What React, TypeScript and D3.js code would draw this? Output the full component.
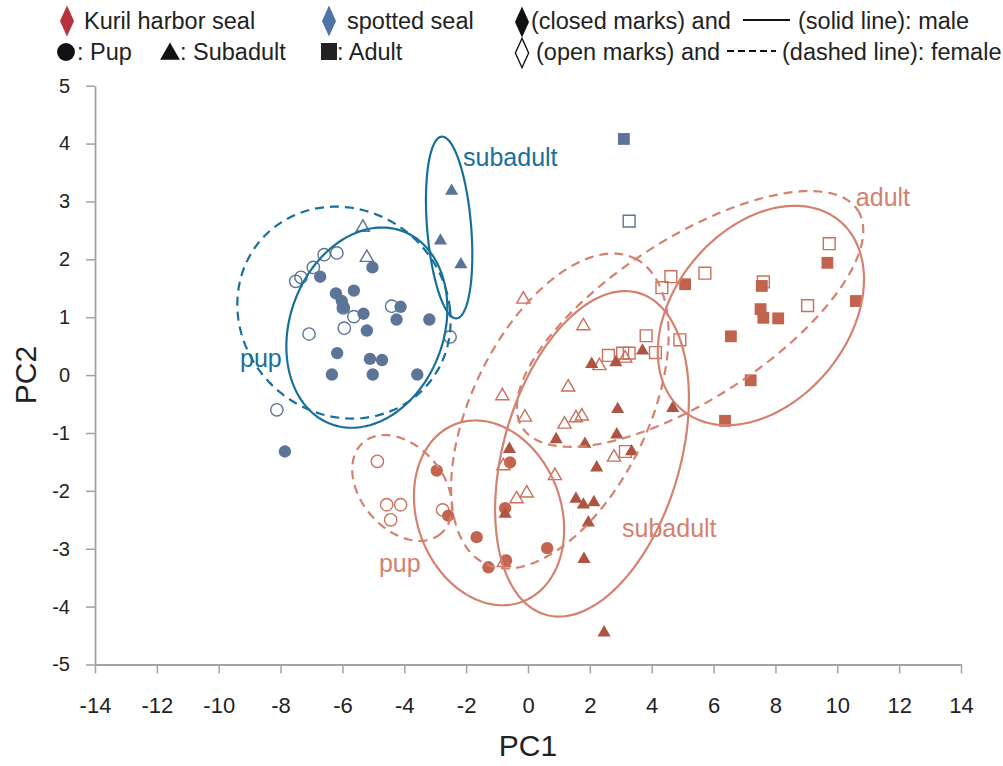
import { useEffect, useRef } from "react";
import * as d3 from "d3";

// PC1 / PC2 scores
const spottedPupMale = [
  [-6.72, 1.7], [-5.03, 1.86], [-6.21, 1.41], [-5.63, 1.46], [-6.02, 1.28],
  [-5.97, 1.17], [-5.32, 1.06], [-4.12, 1.18], [-4.25, 0.96], [-3.19, 0.96],
  [-5.21, 0.77], [-6.17, 0.38], [-5.11, 0.28], [-4.72, 0.26], [-6.34, 0.01],
  [-5.02, 0.01], [-3.58, 0.01], [-7.86, -1.32],
];
const spottedPupFemale = [
  [-6.59, 2.08], [-6.18, 2.11], [-6.94, 1.86], [-7.34, 1.69], [-7.51, 1.62],
  [-5.97, 1.16], [-5.63, 1.01], [-5.94, 0.81], [-7.08, 0.71], [-4.41, 1.19],
  [-2.52, 0.66], [-8.12, -0.6],
];
const spottedSubMale = [[-2.47, 3.18], [-2.83, 2.32], [-2.17, 1.91]];
const spottedSubFemale = [[-5.34, 2.55], [-5.21, 2.03]];
const spottedAdultMale = [[3.1, 4.08]];
const spottedAdultFemale = [[3.27, 2.66]];

const kurilPupMale = [
  [-2.95, -1.65], [-2.58, -2.43], [-1.66, -2.8], [-1.28, -3.32],
  [-0.58, -1.51], [-0.74, -2.3], [-0.71, -3.2], [0.62, -2.99],
];
const kurilPupFemale = [
  [-4.87, -1.49], [-4.57, -2.24], [-4.12, -2.24], [-4.44, -2.5], [-2.76, -2.33],
];
const kurilSubMale = [
  [2.06, 0.19], [2.84, 0.22], [3.7, 0.42], [2.9, -0.59], [2.87, -1.03],
  [0.91, -1.11], [1.84, -1.19], [3.35, -1.32], [2.22, -1.6], [-0.6, -1.28],
  [1.55, -2.14], [1.79, -2.24], [2.13, -2.2], [1.95, -2.55], [1.81, -3.18],
  [-0.74, -2.4], [4.68, -0.57], [2.46, -4.45],
];
const kurilSubFemale = [
  [-0.15, 1.31], [1.79, 0.85], [-0.83, -0.36], [1.3, -0.21], [2.31, 0.16],
  [3.14, 0.29], [-0.1, -0.73], [1.18, -0.85], [1.55, -0.74], [1.74, -0.71],
  [2.78, -1.42], [-0.8, -1.57], [0.87, -1.74], [-0.37, -2.14], [-0.04, -2.04],
  [-0.78, -3.24],
];
const kurilAdultMale = [
  [5.08, 1.57], [7.56, 1.54], [7.52, 1.14], [7.61, 0.99], [8.09, 0.98],
  [6.56, 0.67], [9.68, 1.94], [10.6, 1.28], [7.2, -0.09], [6.37, -0.79],
];
const kurilAdultFemale = [
  [4.62, 1.7], [4.33, 1.51], [5.72, 1.76], [7.61, 1.61], [9.74, 2.27],
  [9.04, 1.2], [3.82, 0.68], [4.91, 0.61], [4.12, 0.39], [2.6, 0.34],
  [3.06, 0.38], [3.27, 0.38], [3.15, -1.32],
];

// confidence ellipses: centre + two conjugate semi-axes, in PC units
const ellipses = [
  { sp: "spotted", dashed: true, c: [-5.95, 1.08], u: [3.43, 0.05], v: [-0.36, 1.83] },
  { sp: "spotted", dashed: false, c: [-5.21, 0.82], u: [1.14, 1.67], v: [2.34, -0.45] },
  { sp: "spotted", dashed: false, c: [-2.55, 2.55], u: [-0.24, 1.57], v: [0.71, 0.03] },
  { sp: "kuril", dashed: true, c: [-4.07, -1.95], u: [1.25, -0.79], v: [-1.02, -0.46] },
  { sp: "kuril", dashed: false, c: [-1.26, -2.38], u: [1.05, -1.54], v: [2.19, 0.42] },
  { sp: "kuril", dashed: true, c: [1.03, -0.62], u: [2.41, 2.64], v: [2.56, -0.66] },
  { sp: "kuril", dashed: false, c: [2.07, -1.36], u: [1.5, 2.78], v: [2.75, -0.42] },
  { sp: "kuril", dashed: true, c: [5.24, 0.97], u: [5.42, 1.88], v: [1.41, -1.16] },
  { sp: "kuril", dashed: false, c: [7.53, 1.03], u: [2.53, 1.64], v: [2.17, -0.95] },
];

const groupLabels = [
  { sp: "spotted", text: "subadult", at: [-2.1, 3.61] },
  { sp: "spotted", text: "pup", at: [-9.31, 0.14] },
  { sp: "kuril", text: "adult", at: [10.6, 2.92] },
  { sp: "kuril", text: "subadult", at: [3.04, -2.79] },
  { sp: "kuril", text: "pup", at: [-4.82, -3.4] },
];

const xTicks = d3.range(-14, 15, 2);
const yTicks = d3.range(-5, 6, 1);

const BLUE_PT = "#5b7498";
const BLUE_LN = "#17709b";
const RED_LN = "#d4816f";
const RED_FILL = { pup: "#c4644f", sub: "#ad5443", adult: "#c2634f" };
const RED_OPEN = "#c96f5b";
const FONT = "'Liberation Sans', Arial, sans-serif";

const App = () => {
  const ref = useRef(null);

  useEffect(() => {
    const svg = d3.select(ref.current);
    svg.selectAll("*").remove();

    const x = d3.scaleLinear().domain([-14, 14]).range([95, 961]);
    const y = d3.scaleLinear().domain([-5, 5]).range([664.5, 85.7]);
    const fmt = (d) => String(d); // plain hyphen minus, as in the source

    // axes
    const gx = svg.append("g")
      .attr("transform", `translate(0,${y(-5)})`)
      .call(d3.axisBottom(x).tickValues(xTicks).tickFormat(fmt).tickSize(9).tickSizeOuter(0).tickPadding(24));
    gx.select(".domain").attr("stroke", "#a3a3a3").attr("stroke-width", 1.8);
    gx.selectAll(".tick line").attr("stroke", "#a3a3a3").attr("stroke-width", 1.5);
    gx.selectAll("text").attr("font-family", FONT).attr("font-size", 22).attr("fill", "#222");

    const gy = svg.append("g")
      .attr("transform", `translate(${x(-14)},0)`)
      .call(d3.axisLeft(y).tickValues(yTicks).tickFormat(fmt).tickSize(9).tickSizeOuter(0).tickPadding(16));
    gy.select(".domain").attr("stroke", "#a3a3a3").attr("stroke-width", 1.8);
    gy.selectAll(".tick line").attr("stroke", "#a3a3a3").attr("stroke-width", 1.5);
    gy.selectAll("text").attr("font-family", FONT).attr("font-size", 20).attr("fill", "#222");

    svg.append("text")
      .attr("x", x(0)).attr("y", 756)
      .attr("text-anchor", "middle")
      .attr("font-family", FONT).attr("font-size", 30).attr("fill", "#222")
      .text("PC1");
    svg.append("text")
      .attr("transform", `translate(36,${y(0)}) rotate(-90)`)
      .attr("text-anchor", "middle")
      .attr("font-family", FONT).attr("font-size", 30).attr("fill", "#222")
      .text("PC2");

    // points
    const sym = {
      pup: d3.symbol(d3.symbolCircle, 120),
      sub: d3.symbol(d3.symbolTriangle, 75),
      adult: d3.symbol(d3.symbolSquare, 140),
    };
    const groups = [
      { data: spottedPupFemale, stage: "pup", sp: "spotted", open: true },
      { data: spottedPupMale, stage: "pup", sp: "spotted", open: false },
      { data: spottedSubFemale, stage: "sub", sp: "spotted", open: true },
      { data: spottedSubMale, stage: "sub", sp: "spotted", open: false },
      { data: spottedAdultFemale, stage: "adult", sp: "spotted", open: true },
      { data: spottedAdultMale, stage: "adult", sp: "spotted", open: false },
      { data: kurilPupFemale, stage: "pup", sp: "kuril", open: true },
      { data: kurilPupMale, stage: "pup", sp: "kuril", open: false },
      { data: kurilAdultFemale, stage: "adult", sp: "kuril", open: true },
      { data: kurilAdultMale, stage: "adult", sp: "kuril", open: false },
      { data: kurilSubFemale, stage: "sub", sp: "kuril", open: true },
      { data: kurilSubMale, stage: "sub", sp: "kuril", open: false },
    ];
    groups.forEach((g) => {
      const col = g.sp === "spotted" ? BLUE_PT : RED_FILL[g.stage];
      svg.append("g")
        .selectAll("path")
        .data(g.data)
        .join("path")
        .attr("transform", (d) => `translate(${x(d[0])},${y(d[1])})`)
        .attr("d", sym[g.stage]())
        .attr("fill", g.open ? "none" : col)
        .attr("stroke", g.open ? (g.sp === "spotted" ? BLUE_PT : RED_OPEN) : "none")
        .attr("stroke-width", 1.4);
    });

    // ellipses
    const ts = d3.range(0, 2 * Math.PI, Math.PI / 90);
    const line = d3.line().curve(d3.curveLinearClosed);
    svg.append("g")
      .selectAll("path")
      .data(ellipses)
      .join("path")
      .attr("d", (e) =>
        line(ts.map((t) => [
          x(e.c[0] + Math.cos(t) * e.u[0] + Math.sin(t) * e.v[0]),
          y(e.c[1] + Math.cos(t) * e.u[1] + Math.sin(t) * e.v[1]),
        ]))
      )
      .attr("fill", "none")
      .attr("stroke", (e) => (e.sp === "spotted" ? BLUE_LN : RED_LN))
      .attr("stroke-width", 2.2)
      .attr("stroke-dasharray", (e) => (e.dashed ? "9,6" : null));

    svg.append("g")
      .selectAll("text")
      .data(groupLabels)
      .join("text")
      .attr("x", (d) => x(d.at[0]))
      .attr("y", (d) => y(d.at[1]))
      .attr("font-family", FONT)
      .attr("font-size", 25)
      .attr("fill", (d) => (d.sp === "spotted" ? BLUE_LN : RED_LN))
      .text((d) => d.text);

    // legend
    const lg = svg.append("g").attr("font-family", FONT).attr("font-size", 23.5).attr("fill", "#222");
    const diamond = d3.symbol(d3.symbolDiamond, 190);
    lg.append("path").attr("transform", "translate(67,21) scale(0.95,1.2)").attr("d", diamond()).attr("fill", "#b8313f");
    lg.append("text").attr("x", 84).attr("y", 29).text("Kuril harbor seal");
    lg.append("path").attr("transform", "translate(329,21) scale(0.95,1.2)").attr("d", diamond()).attr("fill", "#4f74a8");
    lg.append("text").attr("x", 347).attr("y", 29).text("spotted seal");

    lg.append("path").attr("transform", "translate(66,52)").attr("d", d3.symbol(d3.symbolCircle, 250)()).attr("fill", "#111");
    lg.append("text").attr("x", 77).attr("y", 60).text(": Pup");
    lg.append("path").attr("transform", "translate(170,54)").attr("d", d3.symbol(d3.symbolTriangle, 170)()).attr("fill", "#111");
    lg.append("text").attr("x", 180).attr("y", 60).text(": Subadult");
    lg.append("rect").attr("x", 321).attr("y", 43).attr("width", 16).attr("height", 17).attr("fill", "#222");
    lg.append("text").attr("x", 337).attr("y", 60).text(": Adult");

    lg.append("path").attr("transform", "translate(522,22) scale(0.95,1.2)").attr("d", diamond()).attr("fill", "#111");
    lg.append("text").attr("x", 531).attr("y", 29).text("(closed marks) and");
    lg.append("line").attr("x1", 743).attr("x2", 790).attr("y1", 20).attr("y2", 20).attr("stroke", "#111").attr("stroke-width", 2.2);
    lg.append("text").attr("x", 798).attr("y", 29).text("(solid line): male");

    lg.append("path").attr("transform", "translate(522,53) scale(0.9,1.15)").attr("d", diamond()).attr("fill", "none").attr("stroke", "#111").attr("stroke-width", 1.4);
    lg.append("text").attr("x", 536).attr("y", 60).text("(open marks) and");
    lg.append("line").attr("x1", 727).attr("x2", 776).attr("y1", 51).attr("y2", 51).attr("stroke", "#111").attr("stroke-width", 2.2).attr("stroke-dasharray", "7,4");
    lg.append("text").attr("x", 782).attr("y", 60).text("(dashed line): female");
  }, []);

  return (
    <svg
      ref={ref}
      width={1003}
      height={766}
      style={{ position: "absolute", left: 0, top: 0, background: "#fff" }}
    />
  );
};

export default App;
